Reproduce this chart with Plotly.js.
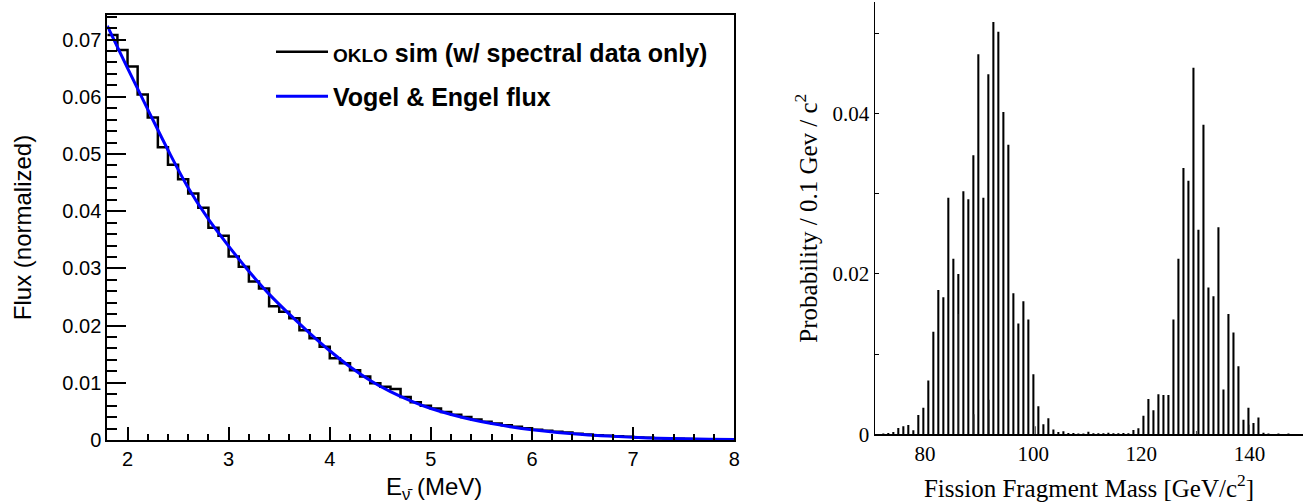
<!DOCTYPE html>
<html>
<head>
<meta charset="utf-8">
<script src="https://cdn.plot.ly/plotly-3.0.1.min.js"></script>
<style>
  html, body { margin: 0; padding: 0; background: #ffffff; }
  #chart { width: 1313px; height: 504px; }
</style>
</head>
<body>
<div id="chart"></div>
<script>
// ---------- Left panel: antineutrino flux ----------
var binEdges = [1.8, 1.9, 2.0, 2.1, 2.2, 2.3, 2.4, 2.5, 2.6, 2.7, 2.8, 2.9, 3.0, 3.1, 3.2, 3.3, 3.4, 3.5, 3.6, 3.7,
  3.8, 3.9, 4.0, 4.1, 4.2, 4.3, 4.4, 4.5, 4.6, 4.7, 4.8, 4.9, 5.0, 5.1, 5.2, 5.3, 5.4, 5.5, 5.6, 5.7,
  5.8, 5.9, 6.0, 6.1, 6.2, 6.3, 6.4, 6.5, 6.6, 6.7, 6.8, 6.9, 7.0, 7.1, 7.2, 7.3, 7.4, 7.5, 7.6, 7.7,
  7.8, 7.9, 8.0];
var simFlux = [0.0708, 0.0682, 0.0653, 0.0604, 0.0564, 0.0512, 0.0481, 0.0456, 0.0431, 0.0406,
  0.0371, 0.0357, 0.0321, 0.0303, 0.0277, 0.0265, 0.0234, 0.0224, 0.0213, 0.0192,
  0.0178, 0.0163, 0.0143, 0.0134, 0.0122, 0.0111, 0.0099, 0.0093, 0.0089, 0.0075,
  0.0066, 0.0060, 0.0055, 0.0049, 0.0044, 0.0040, 0.0036, 0.0032, 0.0029, 0.0026,
  0.0023, 0.00205, 0.0018, 0.0016, 0.00145, 0.0013, 0.0011, 0.00095, 0.00085, 0.00075,
  0.00065, 0.00055, 0.00045, 0.00038, 0.00032, 0.00027, 0.00022, 0.00018, 0.00014, 0.00011,
  0.00009, 0.00007];
var curveEnergy = [1.8, 2.0, 2.2, 2.4, 2.6, 2.8, 3.0, 3.2, 3.4, 3.6, 3.8, 4.0, 4.2, 4.4, 4.6, 4.8,
  5.0, 5.2, 5.4, 5.6, 5.8, 6.0, 6.25, 6.5, 6.75, 7.0, 7.25, 7.5, 7.75, 8.0];
var curveFlux = [0.0724, 0.0650, 0.0578, 0.0507, 0.0441, 0.0386, 0.0339, 0.0295, 0.0255, 0.0220,
  0.0187, 0.0156, 0.0128, 0.0104, 0.00845, 0.00685, 0.0055, 0.00445, 0.00358, 0.00287,
  0.00228, 0.00180, 0.00133, 0.00096, 0.00068, 0.00047, 0.00031, 0.00020, 0.00013, 0.00009];
var legendSim = '<span style="font-size:19px">OKLO</span> sim (w/ spectral data only)';
var legendVE = 'Vogel &amp; Engel flux';

// ---------- Right panel: fission fragment masses ----------
var fragMass = [71.36, 72.29, 73.21, 74.14, 75.06, 75.99, 76.91, 77.84, 78.76, 79.69, 80.61, 81.54,
  82.46, 83.39, 84.31, 85.24, 86.16, 87.09, 88.01, 88.94, 89.86, 90.79, 91.71, 92.64, 93.56,
  94.49, 95.41, 96.34, 97.26, 98.19, 99.11, 100.04, 100.96, 101.89, 102.81, 103.74, 104.66,
  105.59, 106.51, 107.44, 108.36, 109.29, 110.21, 111.14, 112.06, 112.99, 113.91, 114.84,
  115.76, 116.69, 117.61, 118.54, 119.46, 120.39, 121.31, 122.24, 123.16, 124.09, 125.01,
  125.94, 126.86, 127.79, 128.71, 129.64, 130.56, 131.49, 132.41, 133.34, 134.26, 135.19,
  136.11, 137.04, 137.96, 138.89, 139.81, 140.74, 141.66, 142.59, 143.51, 144.44, 145.36,
  146.29, 147.21, 148.14, 149.06];
var fragProb = [0.00005, 0.0001, 0.00015, 0.0003, 0.0008, 0.0010, 0.00115, 0.0005, 0.0024, 0.0033,
  0.0067, 0.0128, 0.0180, 0.0171, 0.0295, 0.0219, 0.0200, 0.0303, 0.0293, 0.0348,
  0.0474, 0.0295, 0.0449, 0.0514, 0.0502, 0.0402, 0.0361, 0.0176, 0.0138, 0.0166,
  0.0143, 0.0075, 0.0035, 0.00125, 0.0020, 0.0006, 0.0003, 0.00037, 0.00015, 0.00015,
  0.0001, 0.0001, 0.00033, 0.00012, 0.00012, 0.00012, 0.0002, 0.00012, 0.00012, 0.00015,
  0.00012, 0.00054, 0.00075, 0.0023, 0.0044, 0.0030, 0.0050, 0.0049, 0.0049, 0.0143,
  0.0219, 0.0332, 0.0316, 0.0457, 0.0255, 0.0386, 0.0183, 0.0172, 0.0258, 0.0056,
  0.0150, 0.0127, 0.0085, 0.0018, 0.0033, 0.0014, 0.0021, 0.0002, 0.0001, 0.00005,
  0.0001, 0.00005, 0.0001, 0.00005, 0.00005];
var extraMass = [86.05, 89.1, 91.9, 100.4, 130.2, 140.0];
var extraProb = [0.0150, 0.0025, 0.0043, 0.0010, 0.0004, 0.0012];

var massTicks = [80, 100, 120, 140];
var probTicks = [0, 0.02, 0.04];
var probTickText = ['0', '0.02', '0.04'];

// build step outline (needs the last value repeated at the upper edge)
var stepY = simFlux.concat([simFlux[simFlux.length - 1]]);

var W = 1313, H = 504;
function px(x) { return x / W; }
function py(y) { return 1 - y / H; }

var traces = [
  {
    x: binEdges, y: stepY, type: 'scatter', mode: 'lines',
    line: { shape: 'hv', color: '#000000', width: 2.5 },
    name: legendSim, xaxis: 'x', yaxis: 'y', legendgroup: 'a'
  },
  {
    x: curveEnergy, y: curveFlux, type: 'scatter', mode: 'lines',
    line: { shape: 'spline', smoothing: 1, color: '#0000ff', width: 3 },
    name: legendVE, xaxis: 'x', yaxis: 'y', legendgroup: 'b'
  },
  {
    x: fragMass, y: fragProb, type: 'bar', width: 0.38,
    marker: { color: '#000000', line: { width: 0 } },
    xaxis: 'x2', yaxis: 'y2', showlegend: false
  },
  {
    x: extraMass, y: extraProb, type: 'bar', width: 0.2,
    marker: { color: '#555555', line: { width: 0 } },
    xaxis: 'x2', yaxis: 'y2', showlegend: false
  }
];

var sans = 'Liberation Sans, Arial, sans-serif';
var serif = 'Liberation Serif, Times New Roman, serif';

var layout = {
  width: W, height: H,
  margin: { l: 0, r: 0, t: 0, b: 0, pad: 0 },
  paper_bgcolor: '#ffffff', plot_bgcolor: 'rgba(0,0,0,0)',
  showlegend: true,
  barmode: 'overlay',
  legend: {
    x: px(271), y: py(29), xanchor: 'left', yanchor: 'top',
    bgcolor: 'rgba(0,0,0,0)', borderwidth: 0,
    font: { family: sans, size: 25, color: '#000000', weight: 'bold' },
    itemwidth: 52, tracegroupgap: 9, traceorder: 'grouped'
  },
  xaxis: {
    domain: [px(107.3), px(734.3)], range: [1.8, 8.0], anchor: 'y',
    showline: true, linecolor: '#000000', linewidth: 2, mirror: true,
    ticks: 'inside', ticklen: 13, tickwidth: 2, tickcolor: '#000000',
    tick0: 0, dtick: 1, showgrid: false, zeroline: false, automargin: false,
    tickfont: { family: sans, size: 20, color: '#000000' },
    minor: { ticks: 'inside', ticklen: 6, tickwidth: 2, tickcolor: '#000000', dtick: 0.2, showgrid: false },
    title: { text: '&nbsp;&nbsp;&nbsp;&nbsp;E<sub>\u03BD\u0304</sub> (MeV)', standoff: 14,
             font: { family: sans, size: 24, color: '#000000' } }
  },
  yaxis: {
    domain: [py(440), py(15)], range: [0, 0.0743], anchor: 'x',
    showline: true, linecolor: '#000000', linewidth: 2, mirror: true,
    ticks: 'inside', ticklen: 19, tickwidth: 2, tickcolor: '#000000',
    tick0: 0, dtick: 0.01, showgrid: false, zeroline: false, automargin: false,
    tickfont: { family: sans, size: 20, color: '#000000' },
    minor: { ticks: 'inside', ticklen: 10, tickwidth: 2, tickcolor: '#000000', dtick: 0.002, showgrid: false },
    title: { text: 'Flux (normalized)', standoff: 24,
             font: { family: sans, size: 24, color: '#000000' } }
  },
  xaxis2: {
    domain: [px(875), px(1303)], range: [70.75, 149.9], anchor: 'y2',
    showline: true, linecolor: '#000000', linewidth: 1.5,
    ticks: '', tickvals: massTicks, showgrid: false, zeroline: false, automargin: false,
    tickfont: { family: serif, size: 21, color: '#000000' },
    title: { text: 'Fission Fragment Mass [GeV/c<sup>2</sup>]', standoff: 14,
             font: { family: serif, size: 25, color: '#000000' } }
  },
  yaxis2: {
    domain: [py(434.3), py(2)], range: [0, 0.0539], anchor: 'x2',
    showline: true, linecolor: '#000000', linewidth: 1.5,
    ticks: 'inside', ticklen: 4, tickwidth: 1.2, tickcolor: '#000000',
    tickvals: probTicks, ticktext: probTickText, showgrid: false, zeroline: false, automargin: false,
    tickfont: { family: serif, size: 21, color: '#000000' },
    minor: { ticks: 'inside', ticklen: 4, tickwidth: 1.2, tickcolor: '#000000', tick0: 0, dtick: 0.01, showgrid: false },
    title: { text: 'Probability / 0.1 Gev / c<sup>2</sup>', standoff: 8,
             font: { family: serif, size: 25, color: '#000000' } }
  }
};

Plotly.newPlot('chart', traces, layout, { displayModeBar: false, staticPlot: true });
</script>
</body>
</html>
